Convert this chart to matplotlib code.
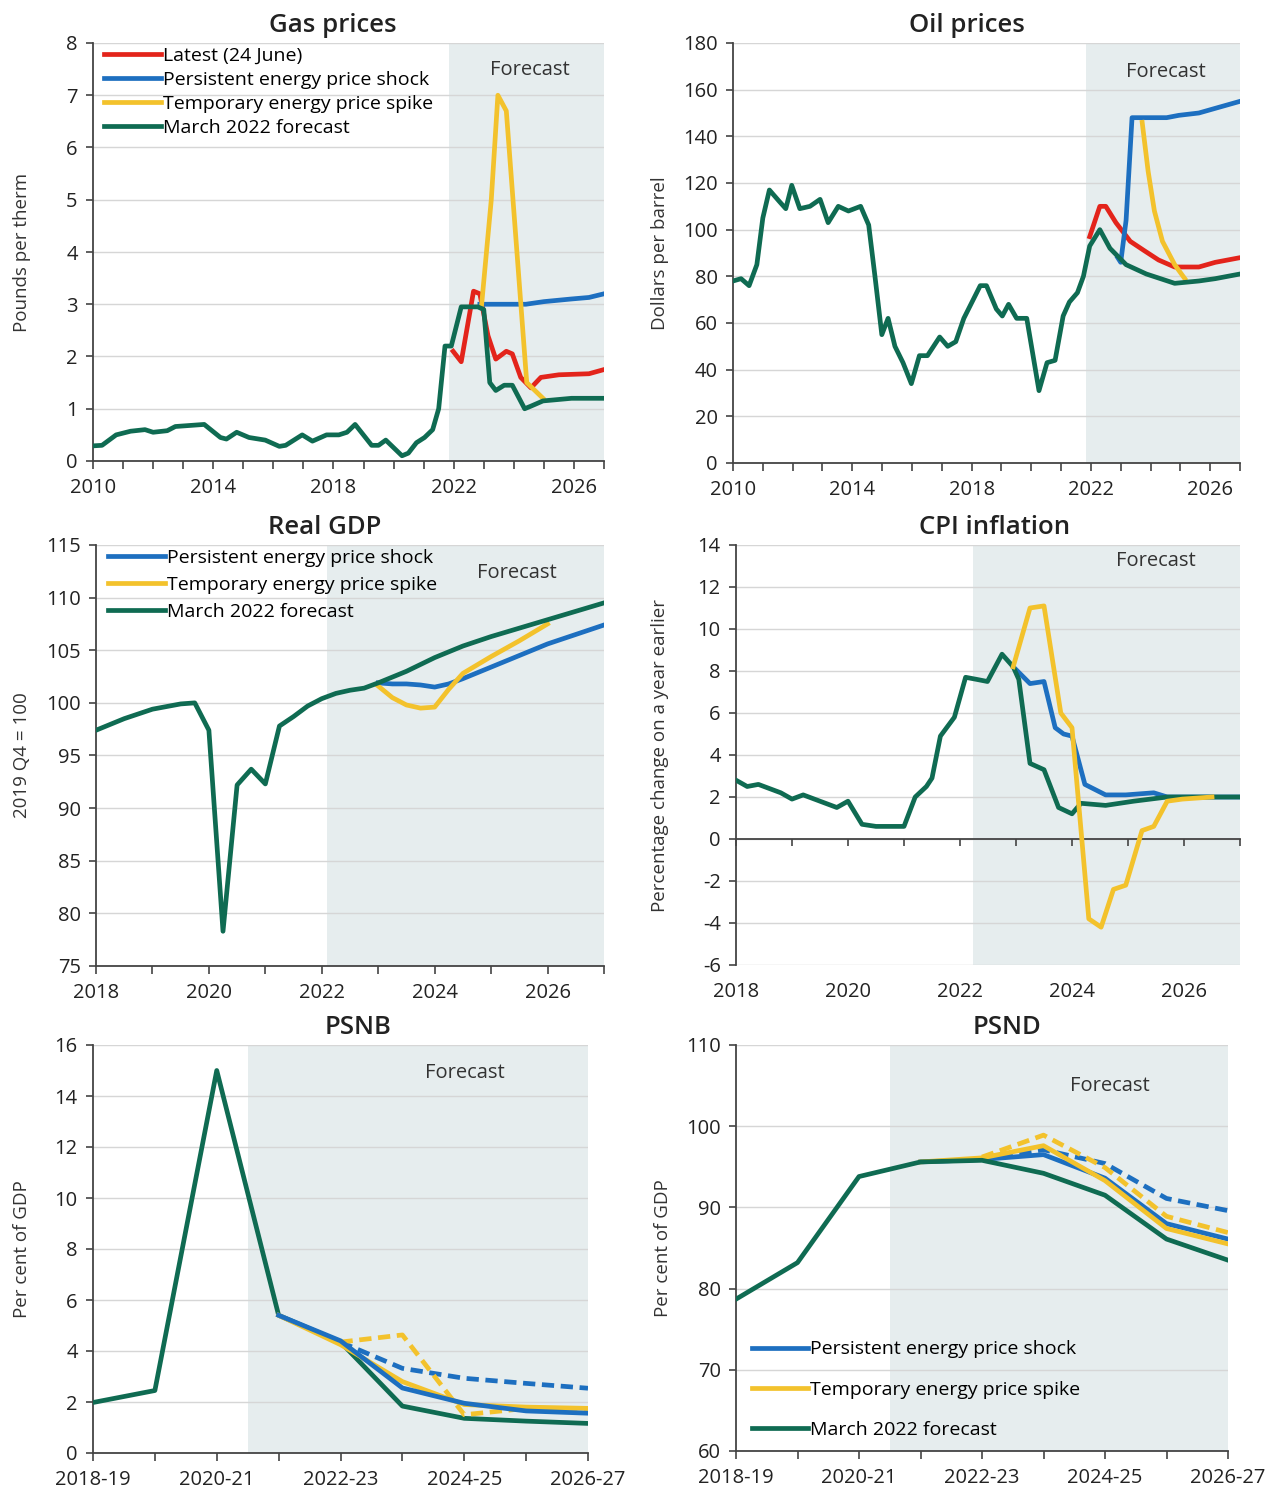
import matplotlib
matplotlib.use('Agg')
import matplotlib.pyplot as plt
import numpy as np

plt.rcParams['font.family'] = ['Open Sans', 'DejaVu Sans']
plt.rcParams['axes.unicode_minus'] = False

RED = '#e3241b'
BLUE = '#1d6fc0'
YELLOW = '#f3c22c'
GREEN = '#0f6b52'
SHADE = '#e6edee'
GRID = '#d6d6d6'
AXIS = '#444444'
TEXT = '#222222'
LW = 3.4

# ---- Gas prices (pounds per therm) ----
gas_mar_x = [2010.0, 2010.3, 2010.77, 2011.25, 2011.73, 2012.0, 2012.47, 2012.74, 2013.7, 2014.24,
             2014.44, 2014.78, 2015.19, 2015.73, 2016.2, 2016.41, 2016.96, 2017.3, 2017.77, 2018.18,
             2018.45, 2018.72, 2019.27, 2019.5, 2019.74, 2020.28, 2020.49, 2020.76, 2021.03, 2021.3,
             2021.5, 2021.71, 2021.92, 2022.25, 2022.8, 2023.0, 2023.2, 2023.4, 2023.68, 2023.95,
             2024.36, 2024.57, 2024.97, 2025.92, 2027.0]
gas_mar_y = [0.29, 0.3, 0.5, 0.57, 0.6, 0.55, 0.58, 0.66, 0.7, 0.45,
             0.42, 0.55, 0.45, 0.4, 0.28, 0.3, 0.5, 0.38, 0.5, 0.5,
             0.55, 0.7, 0.3, 0.3, 0.4, 0.1, 0.15, 0.35, 0.45, 0.6,
             1.0, 2.2, 2.2, 2.95, 2.95, 2.9, 1.5, 1.35, 1.45, 1.45,
             1.0, 1.05, 1.15, 1.2, 1.2]
gas_latest_x = [2021.98, 2022.25, 2022.66, 2022.87, 2023.14, 2023.4, 2023.75, 2023.95, 2024.23,
                2024.57, 2024.9, 2025.5, 2026.5, 2027.0]
gas_latest_y = [2.1, 1.9, 3.25, 3.2, 2.4, 1.95, 2.1, 2.05, 1.6, 1.4, 1.6, 1.65, 1.67, 1.75]
gas_pers_x = [2022.87, 2023.5, 2024.4, 2025.0, 2025.9, 2026.5, 2027.0]
gas_pers_y = [3.0, 3.0, 3.0, 3.05, 3.1, 3.13, 3.2]
gas_temp_x = [2022.93, 2023.25, 2023.47, 2023.75, 2024.43, 2024.97]
gas_temp_y = [3.0, 5.0, 7.0, 6.7, 1.5, 1.2]

# ---- Oil prices (dollars per barrel) ----
oil_mar_x = [2010.0, 2010.27, 2010.54, 2010.8, 2011.0, 2011.22, 2011.56, 2011.77, 2011.97, 2012.24,
             2012.58, 2012.92, 2013.19, 2013.53, 2013.87, 2014.28, 2014.55, 2014.76, 2014.99, 2015.2,
             2015.43, 2015.7, 2015.98, 2016.25, 2016.52, 2016.93, 2017.2, 2017.47, 2017.74, 2018.29,
             2018.5, 2018.83, 2019.03, 2019.24, 2019.51, 2019.85, 2020.26, 2020.53, 2020.8, 2021.07,
             2021.28, 2021.55, 2021.75, 2021.96, 2022.3, 2022.64, 2023.18, 2023.86, 2024.81, 2025.62,
             2026.17, 2027.0]
oil_mar_y = [78, 79, 76, 85, 105, 117, 112, 109, 119, 109,
             110, 113, 103, 110, 108, 110, 102, 80, 55, 62,
             50, 43, 34, 46, 46, 54, 50, 52, 62, 76,
             76, 66, 63, 68, 62, 62, 31, 43, 44, 63,
             69, 73, 80, 93, 100, 92, 85, 81, 77, 78,
             79, 81]
oil_latest_x = [2021.96, 2022.3, 2022.5, 2022.84, 2023.32, 2023.79, 2024.27, 2024.81, 2025.62, 2026.17, 2027.0]
oil_latest_y = [97, 110, 110, 103, 95, 91, 87, 84, 84, 86, 88]
oil_pers_x = [2022.9, 2023.0, 2023.18, 2023.38, 2024.54, 2024.95, 2025.62, 2026.17, 2027.0]
oil_pers_y = [88, 86, 104, 148, 148, 149, 150, 152, 155]
oil_temp_x = [2023.72, 2023.92, 2024.13, 2024.4, 2024.81, 2025.15]
oil_temp_y = [146, 125, 108, 95, 85, 79]

# ---- Real GDP (2019 Q4 = 100) ----
gdp_mar_x = [2018.0, 2018.5, 2019.0, 2019.5, 2019.75, 2020.0, 2020.25, 2020.5, 2020.75, 2021.0,
             2021.25, 2021.5, 2021.75, 2022.0, 2022.25, 2022.5, 2022.75, 2023.0, 2023.5, 2024.0,
             2024.5, 2025.0, 2025.5, 2026.0, 2026.5, 2027.0]
gdp_mar_y = [97.4, 98.5, 99.4, 99.9, 100.0, 97.4, 78.3, 92.2, 93.7, 92.3,
             97.8, 98.7, 99.7, 100.4, 100.9, 101.2, 101.4, 101.9, 103.0, 104.3,
             105.4, 106.3, 107.1, 107.9, 108.7, 109.5]
gdp_pers_x = [2023.0, 2023.25, 2023.5, 2023.75, 2024.0, 2024.25, 2024.5, 2025.0, 2025.5, 2026.0, 2026.5, 2027.0]
gdp_pers_y = [101.9, 101.8, 101.8, 101.7, 101.5, 101.8, 102.3, 103.4, 104.5, 105.6, 106.5, 107.4]
gdp_temp_x = [2023.0, 2023.25, 2023.5, 2023.75, 2024.0, 2024.25, 2024.5, 2025.0, 2025.5, 2026.0]
gdp_temp_y = [101.6, 100.5, 99.8, 99.5, 99.6, 101.3, 102.8, 104.4, 105.9, 107.5]

# ---- CPI inflation (per cent) ----
cpi_mar_x = [2018.0, 2018.2, 2018.4, 2018.6, 2018.8, 2019.0, 2019.2, 2019.4, 2019.6, 2019.8,
             2020.0, 2020.25, 2020.5, 2020.75, 2021.0, 2021.2, 2021.4, 2021.5, 2021.65, 2021.9,
             2022.1, 2022.3, 2022.49, 2022.75, 2022.95, 2023.05, 2023.25, 2023.5, 2023.76, 2024.0,
             2024.16, 2024.6, 2025.1, 2025.7, 2027.0]
cpi_mar_y = [2.8, 2.5, 2.6, 2.4, 2.2, 1.9, 2.1, 1.9, 1.7, 1.5,
             1.8, 0.7, 0.6, 0.6, 0.6, 2.0, 2.5, 2.9, 4.9, 5.8,
             7.7, 7.6, 7.5, 8.8, 8.2, 7.6, 3.6, 3.3, 1.5, 1.2,
             1.7, 1.6, 1.8, 2.0, 2.0]
cpi_pers_x = [2022.95, 2023.25, 2023.5, 2023.7, 2023.85, 2024.0, 2024.23, 2024.6, 2024.96, 2025.46, 2025.7, 2027.0]
cpi_pers_y = [8.2, 7.4, 7.5, 5.3, 5.0, 4.9, 2.6, 2.1, 2.1, 2.2, 2.0, 2.0]
cpi_temp_x = [2022.95, 2023.25, 2023.5, 2023.8, 2024.0, 2024.3, 2024.52, 2024.74, 2024.96, 2025.25,
              2025.46, 2025.7, 2025.97, 2026.5]
cpi_temp_y = [8.2, 11.0, 11.1, 6.0, 5.3, -3.8, -4.2, -2.4, -2.2, 0.4,
              0.6, 1.8, 1.9, 2.0]

# ---- Public finances (per cent of GDP), fiscal years ----
fy_labels = ['2018-19', '2019-20', '2020-21', '2021-22', '2022-23', '2023-24', '2024-25', '2025-26', '2026-27']
psnb_mar = [1.98, 2.45, 15.0, 5.4, 4.35, 1.84, 1.36, 1.25, 1.16]
psnb_pers = [5.4, 4.4, 2.55, 1.95, 1.65, 1.56]          # from 2021-22
psnb_temp = [5.4, 4.25, 2.8, 1.9, 1.8, 1.75]           # from 2021-22
psnb_pers_dash = [4.35, 3.32, 2.93, 2.73, 2.54]        # from 2022-23
psnb_temp_dash = [4.35, 4.63, 1.5, 1.75, 1.75]         # from 2022-23
psnd_mar = [78.7, 83.2, 93.8, 95.6, 95.8, 94.2, 91.5, 86.1, 83.5]
psnd_pers = [95.6, 95.9, 96.5, 93.6, 88.0, 86.1]
psnd_temp = [95.6, 96.1, 97.6, 93.3, 87.4, 85.5]
psnd_pers_dash = [95.9, 97.1, 95.4, 91.1, 89.6]
psnd_temp_dash = [96.2, 98.9, 94.9, 88.9, 86.9]

W, H = 1275, 1489
fig = plt.figure(figsize=(W / 100, H / 100), dpi=100)


def px_axes(l, t, r, b):
    return fig.add_axes([l / W, 1 - b / H, (r - l) / W, (b - t) / H])


def style(ax, xlim, ylim, ystep, shade_from, ylabel, ylab_x, fc_xy, title, title_xy):
    ax.set_xlim(*xlim)
    ax.set_ylim(*ylim)
    ax.set_yticks(np.arange(ylim[0], ylim[1] + ystep / 2, ystep))
    ax.axvspan(shade_from, xlim[1], color=SHADE, lw=0, zorder=0.2)
    ax.set_axisbelow(True)
    ax.yaxis.grid(True, color=GRID, lw=1.0)
    for s in ['top', 'right']:
        ax.spines[s].set_visible(False)
    for s in ['left', 'bottom']:
        ax.spines[s].set_color(AXIS)
        ax.spines[s].set_linewidth(1.3)
    ax.tick_params(axis='both', direction='out', color=AXIS, labelsize=14.5,
                   labelcolor=TEXT, width=1.2)
    ax.tick_params(axis='y', length=5, pad=6)
    ax.tick_params(axis='x', length=6, pad=6)
    ax.set_ylabel(ylabel, fontsize=13.5, color='#333333')
    ax.yaxis.set_label_coords(ylab_x, 0.5)
    ax.text(fc_xy[0], fc_xy[1], 'Forecast', transform=ax.transAxes, ha='center', va='center',
            fontsize=14.5, color='#333333')
    fig.text(title_xy[0] / W, 1 - title_xy[1] / H, title, ha='center', va='center',
             fontsize=18.5, fontweight='semibold', color=TEXT)


def year_ticks(ax, start, end, step):
    yrs = np.arange(start, end + 1)
    ax.set_xticks(yrs)
    ax.set_xticklabels([str(y) if (y - start) % step == 0 and y < end else '' for y in yrs])


def legend(ax, handles, loc, anchor, spacing):
    ax.legend(handles=handles, loc=loc, bbox_to_anchor=anchor, frameon=False, fontsize=14,
              handlelength=2.9, handletextpad=0.1, labelspacing=spacing, borderpad=0,
              borderaxespad=0)


# Gas prices
ax = px_axes(93, 43, 604, 461)
style(ax, (2010, 2027), (0, 8), 1, 2021.85, 'Pounds per therm', -0.121, (0.855, 0.935),
      'Gas prices', (333, 25))
year_ticks(ax, 2010, 2027, 4)
h1, = ax.plot(gas_latest_x, gas_latest_y, color=RED, lw=LW, label='Latest (24 June)', zorder=3)
h2, = ax.plot(gas_pers_x, gas_pers_y, color=BLUE, lw=LW, label='Persistent energy price shock', zorder=3)
h3, = ax.plot(gas_temp_x, gas_temp_y, color=YELLOW, lw=LW, label='Temporary energy price spike', zorder=3)
h4, = ax.plot(gas_mar_x, gas_mar_y, color=GREEN, lw=LW, label='March 2022 forecast', zorder=3)
legend(ax, [h1, h2, h3, h4], 'upper left', (0.022, 0.99), 0.3)

# Oil prices
ax = px_axes(733, 43, 1240, 463)
style(ax, (2010, 2027), (0, 180), 20, 2021.85, 'Dollars per barrel', -0.126, (0.854, 0.931),
      'Oil prices', (967, 25))
year_ticks(ax, 2010, 2027, 4)
ax.plot(oil_latest_x, oil_latest_y, color=RED, lw=LW, zorder=3)
ax.plot(oil_pers_x, oil_pers_y, color=BLUE, lw=LW, zorder=3)
ax.plot(oil_temp_x, oil_temp_y, color=YELLOW, lw=LW, zorder=3)
ax.plot(oil_mar_x, oil_mar_y, color=GREEN, lw=LW, zorder=3)

# Real GDP
ax = px_axes(96, 545, 604, 966)
style(ax, (2018, 2027), (75, 115), 5, 2022.1, '2019 Q4 = 100', -0.128, (0.829, 0.933),
      'Real GDP', (325, 527))
year_ticks(ax, 2018, 2027, 2)
g2, = ax.plot(gdp_pers_x, gdp_pers_y, color=BLUE, lw=LW, label='Persistent energy price shock', zorder=3)
g3, = ax.plot(gdp_temp_x, gdp_temp_y, color=YELLOW, lw=LW, label='Temporary energy price spike', zorder=3)
g4, = ax.plot(gdp_mar_x, gdp_mar_y, color=GREEN, lw=LW, label='March 2022 forecast', zorder=3)
legend(ax, [g2, g3, g4], 'upper left', (0.024, 0.99), 0.45)

# CPI inflation
ax = px_axes(736, 545, 1240, 965)
style(ax, (2018, 2027), (-6, 14), 2, 2022.24, 'Percentage change on a year earlier', -0.133,
      (0.833, 0.962), 'CPI inflation', (995, 527))
year_ticks(ax, 2018, 2027, 2)
ax.spines['bottom'].set_visible(False)
ax.tick_params(axis='x', length=0, pad=12)
zero_ax = ax.secondary_xaxis(6 / 20)
zero_ax.set_zorder(2)
zero_ax.set_xticks(np.arange(2018, 2028))
zero_ax.set_xticklabels([])
zero_ax.tick_params(direction='out', length=5, color=AXIS, width=1.2)
zero_ax.spines['bottom'].set_color(AXIS)
zero_ax.spines['bottom'].set_linewidth(1.3)
ax.plot(cpi_pers_x, cpi_pers_y, color=BLUE, lw=LW, zorder=3)
ax.plot(cpi_mar_x, cpi_mar_y, color=GREEN, lw=LW, zorder=3)
ax.plot(cpi_temp_x, cpi_temp_y, color=YELLOW, lw=LW, zorder=3)

# PSNB
fx = np.arange(len(fy_labels))
ax = px_axes(93, 1045, 588, 1453)
style(ax, (0, 8), (0, 16), 2, 2.5, 'Per cent of GDP', -0.125, (0.752, 0.931), 'PSNB', (358, 1028))
ax.set_xticks(fx)
ax.set_xticklabels([l if i % 2 == 0 else '' for i, l in enumerate(fy_labels)])
DASH = (0, (2.6, 1.4))
ax.plot(fx, psnb_mar, color=GREEN, lw=LW, zorder=3)
ax.plot(fx[4:], psnb_pers_dash, color=BLUE, lw=LW, ls=DASH, zorder=3)
ax.plot(fx[4:], psnb_temp_dash, color=YELLOW, lw=LW, ls=DASH, zorder=3)
ax.plot(fx[3:], psnb_temp, color=YELLOW, lw=LW, zorder=3)
ax.plot(fx[3:], psnb_pers, color=BLUE, lw=LW, zorder=3)

# PSND
ax = px_axes(736, 1045, 1228, 1451)
style(ax, (0, 8), (60, 110), 10, 2.5, 'Per cent of GDP', -0.130, (0.76, 0.899), 'PSND', (1007, 1028))
ax.set_xticks(fx)
ax.set_xticklabels([l if i % 2 == 0 else '' for i, l in enumerate(fy_labels)])
ax.plot(fx[4:], psnd_pers_dash, color=BLUE, lw=LW, ls=DASH, zorder=3)
ax.plot(fx[4:], psnd_temp_dash, color=YELLOW, lw=LW, ls=DASH, zorder=3)
p2, = ax.plot(fx[3:], psnd_pers, color=BLUE, lw=LW, label='Persistent energy price shock', zorder=3)
p3, = ax.plot(fx[3:], psnd_temp, color=YELLOW, lw=LW, label='Temporary energy price spike', zorder=3)
p4, = ax.plot(fx, psnd_mar, color=GREEN, lw=LW, label='March 2022 forecast', zorder=3)
legend(ax, [p2, p3, p4], 'lower left', (0.032, 0.03), 1.14)

fig.savefig('out.png', dpi=100)
